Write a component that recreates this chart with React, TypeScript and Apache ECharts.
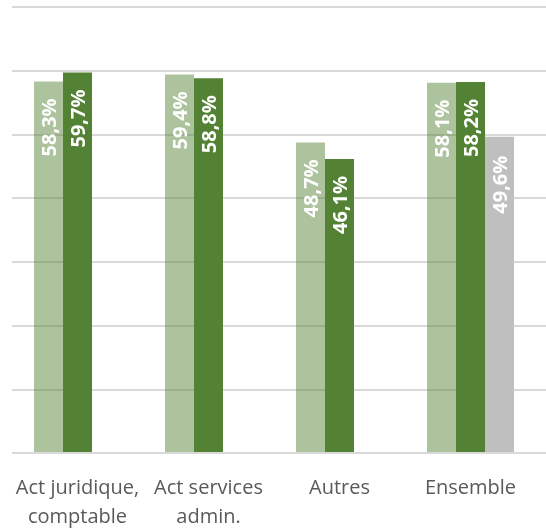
import React, { useEffect, useRef } from "react";
import * as echarts from "echarts";

const categories = ["Act juridique,\ncomptable", "Act services\nadmin.", "Autres", "Ensemble"];
const seriesLight = [58.3, 59.4, 48.7, 58.1];
const seriesDark = [59.7, 58.8, 46.1, 58.2];
const seriesGray: (number | null)[] = [null, null, null, 49.6];
const yMin = 0;
const yMax = 70;
const yInterval = 10;

const fmt = (p: any) => (typeof p.value === "number" ? p.value.toFixed(1).replace(".", ",") + "%" : "");

const labelStyle = {
  show: true,
  position: "insideTop",
  distance: 17,
  rotate: 90,
  align: "right",
  verticalAlign: "middle",
  color: "#ffffff",
  fontFamily: "Open Sans",
  fontWeight: "bold",
  fontSize: 20,
  formatter: fmt,
};

export default function App() {
  const ref = useRef<HTMLDivElement>(null);
  useEffect(() => {
    if (!ref.current) return;
    const chart = echarts.init(ref.current, undefined, { renderer: "svg" });
    chart.setOption({
      animation: false,
      grid: [
        { left: 12, width: 524, top: 7, bottom: 77 },
        { left: 12, right: 0, top: 7, bottom: 77 },
      ],
      xAxis: [
        {
          type: "category",
          gridIndex: 0,
          data: categories,
          axisLine: { show: false },
          axisTick: { show: false },
          axisLabel: {
            color: "#595959",
            fontFamily: "Open Sans",
            fontSize: 20,
            lineHeight: 29,
            margin: 20,
            interval: 0,
          },
        },
        { type: "value", gridIndex: 1, min: 0, max: 1, show: false },
      ],
      yAxis: [
        {
          type: "value",
          gridIndex: 0,
          min: yMin,
          max: yMax,
          interval: yInterval,
          axisLabel: { show: false },
          axisLine: { show: false },
          axisTick: { show: false },
          splitLine: { show: false },
        },
        {
          type: "value",
          gridIndex: 1,
          min: yMin,
          max: yMax,
          interval: yInterval,
          axisLabel: { show: false },
          axisLine: { show: false },
          axisTick: { show: false },
          splitLine: { show: true, lineStyle: { color: "#d9d9d9", width: 2 } },
        },
      ],
      series: [
        {
          type: "bar",
          data: seriesLight,
          barGap: "0%",
          barCategoryGap: "33.6%",
          itemStyle: { color: "rgba(84,130,53,0.48)" },
          label: labelStyle,
        },
        {
          type: "bar",
          data: seriesDark,
          itemStyle: { color: "#548235" },
          label: labelStyle,
        },
        {
          type: "bar",
          data: seriesGray,
          itemStyle: { color: "#bfbfbf" },
          label: { ...labelStyle, distance: 19 },
        },
      ],
    });
    return () => chart.dispose();
  }, []);
  return (
    <div
      ref={ref}
      style={{ position: "fixed", left: 0, top: 0, width: 546, height: 530 }}
    />
  );
}
